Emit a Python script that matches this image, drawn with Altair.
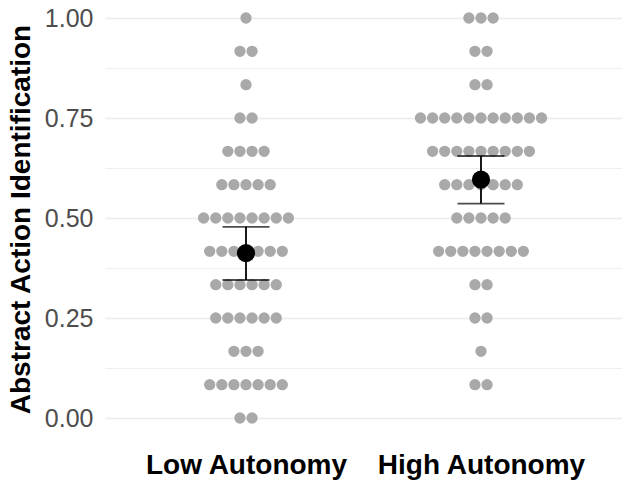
import altair as alt
import pandas as pd

# ---- data ----
groups = ["Low Autonomy", "High Autonomy"]
group_index = [1, 2]
# scores are in twelfths: k/12 for k = 0..12
levels_k = [0, 1, 2, 3, 4, 5, 6, 7, 8, 9, 10, 11, 12]
low_counts = [2, 7, 3, 6, 6, 7, 8, 5, 4, 2, 1, 2, 1]
high_counts = [0, 2, 1, 2, 2, 8, 5, 7, 9, 11, 2, 2, 3]
means = [0.412, 0.596]
ci_low = [0.345, 0.536]
ci_high = [0.478, 0.655]

major_ticks = [0.0, 0.25, 0.5, 0.75, 1.0]
grid_values = [0.0, 0.125, 0.25, 0.375, 0.5, 0.625, 0.75, 0.875, 1.0]
dot_step = 0.0515  # horizontal spacing of stacked dots, in x units

# ---- tables built from the arrays ----
rows = []
for gi, counts in zip(group_index, [low_counts, high_counts]):
    for k, c in zip(levels_k, counts):
        for _ in range(c):
            rows.append({"idx": gi, "level": k, "score": k / 12})
dots = pd.DataFrame(rows)

summary = pd.DataFrame({"idx": group_index, "group": groups, "mean": means,
                        "lo": ci_low, "hi": ci_high})

FONT = "Liberation Sans"
label_expr = "datum.value == 1 ? 'Low Autonomy' : datum.value == 2 ? 'High Autonomy' : ''"

xscale = alt.Scale(domain=[0.4, 2.6], nice=False, zero=False)
yscale = alt.Scale(domain=[-0.05, 1.045], nice=False, zero=False)

xaxis = alt.Axis(values=group_index, labelExpr=label_expr, title=None, grid=False,
                 ticks=False, domain=False, labelFontSize=28, labelFontWeight="bold",
                 labelColor="black", labelFont=FONT, labelPadding=13, labelLimit=0)
yaxis = alt.Axis(values=grid_values, title="Abstract Action Identification",
                 labelExpr="round(datum.value*4) == datum.value*4 ? format(datum.value, '.2f') : ''",
                 grid=True, gridColor="#EBEBEB",
                 gridWidth={"condition": {"test": "round(datum.value*4) == datum.value*4", "value": 1.6},
                            "value": 0.8},
                 ticks=False, domain=False, labelFontSize=25, labelColor="#4D4D4D",
                 labelFont=FONT, labelPadding=12, labelLimit=0, titleFont=FONT, titleFontSize=28,
                 titleFontWeight="bold", titleColor="black", titlePadding=9)

base_dots = alt.Chart(dots).transform_window(
    rank="row_number()", groupby=["idx", "level"]
).transform_joinaggregate(
    n="count()", groupby=["idx", "level"]
).transform_calculate(
    xpos=f"datum.idx + (datum.rank - (datum.n + 1) / 2) * {dot_step}"
)

dot_layer = base_dots.mark_circle(size=128, color="#A9A9A9", opacity=1).encode(
    x=alt.X("xpos:Q", scale=xscale, axis=xaxis),
    y=alt.Y("score:Q", scale=yscale, axis=yaxis),
)

sbase = alt.Chart(summary)
err_rule = sbase.mark_rule(color="black", strokeWidth=1.8).encode(
    x=alt.X("idx:Q", scale=xscale),
    y=alt.Y("lo:Q", scale=yscale),
    y2="hi:Q",
)
cap_lo = sbase.mark_tick(color="black", orient="horizontal", size=47, thickness=1.8).encode(
    x=alt.X("idx:Q", scale=xscale), y=alt.Y("lo:Q", scale=yscale))
cap_hi = sbase.mark_tick(color="black", orient="horizontal", size=47, thickness=1.8).encode(
    x=alt.X("idx:Q", scale=xscale), y=alt.Y("hi:Q", scale=yscale))
mean_pt = sbase.mark_circle(color="black", size=330, opacity=1).encode(
    x=alt.X("idx:Q", scale=xscale), y=alt.Y("mean:Q", scale=yscale))

chart = alt.layer(dot_layer, err_rule, cap_lo, cap_hi, mean_pt).properties(
    width=517, height=438,
    autosize=alt.AutoSizeParams(type="none"),
    padding={"left": 105, "top": 0, "right": 0, "bottom": 43},
    background="white",
).configure_view(stroke=None)

chart.save("out.html", embed_options={"renderer": "svg", "actions": False})
